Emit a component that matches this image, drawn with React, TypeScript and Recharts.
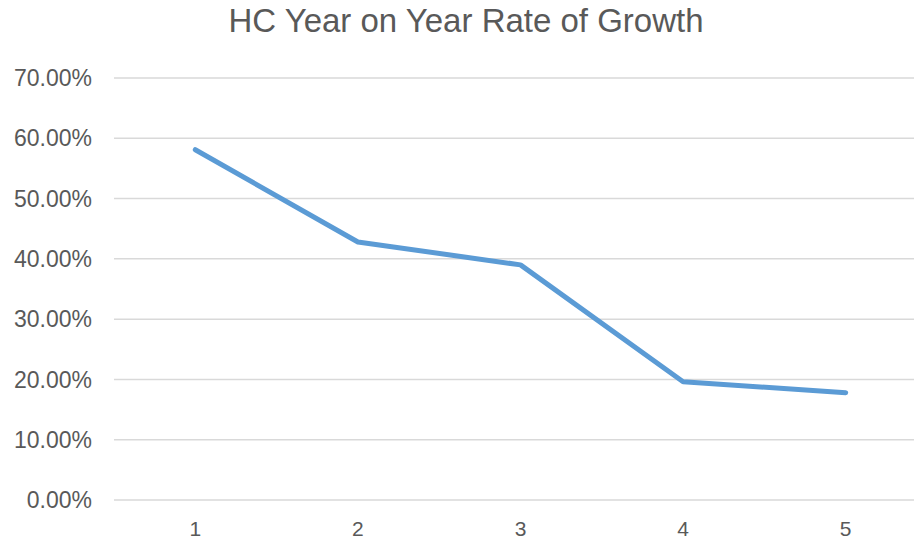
import React from "react";
import { LineChart, Line, XAxis, YAxis, CartesianGrid } from "recharts";

const categories = ["1", "2", "3", "4", "5"];
const growthRates = [0.581, 0.428, 0.39, 0.196, 0.178];
const yTicks = [0, 0.1, 0.2, 0.3, 0.4, 0.5, 0.6, 0.7];
const title = "HC Year on Year Rate of Growth";

const data = categories.map((c, i) => ({ name: c, value: growthRates[i] }));

const font = "'Liberation Sans', Arial, sans-serif";

export default function App() {
  return (
    <div
      style={{
        position: "absolute",
        left: 0,
        top: 0,
        width: 914,
        height: 542,
        overflow: "hidden",
        background: "#fff",
        fontFamily: font,
      }}
    >
      <div
        style={{
          position: "absolute",
          left: 0,
          width: 932,
          top: 2,
          textAlign: "center",
          fontSize: 33,
          color: "#595959",
          fontFamily: font,
        }}
      >
        {title}
      </div>
      <LineChart
        width={941}
        height={542}
        data={data}
        margin={{ top: 78, right: 14, bottom: 0, left: 0 }}
      >
        <CartesianGrid vertical={false} stroke="#d9d9d9" strokeWidth={1.5} />
        <XAxis
          dataKey="name"
          scale="band"
          axisLine={false}
          tickLine={false}
          height={42}
          tickMargin={15}
          tick={{ fill: "#595959", fontSize: 21, fontFamily: font }}
        />
        <YAxis
          type="number"
          domain={[0, 0.7]}
          ticks={yTicks}
          width={114}
          axisLine={false}
          tickLine={false}
          tickMargin={16}
          tickFormatter={(v: number) => (v * 100).toFixed(2) + "%"}
          tick={{ fill: "#595959", fontSize: 23, fontFamily: font }}
        />
        <Line
          type="linear"
          dataKey="value"
          stroke="#5B9BD5"
          strokeWidth={5}
          strokeLinecap="round"
          strokeLinejoin="round"
          dot={false}
          isAnimationActive={false}
        />
      </LineChart>
    </div>
  );
}
